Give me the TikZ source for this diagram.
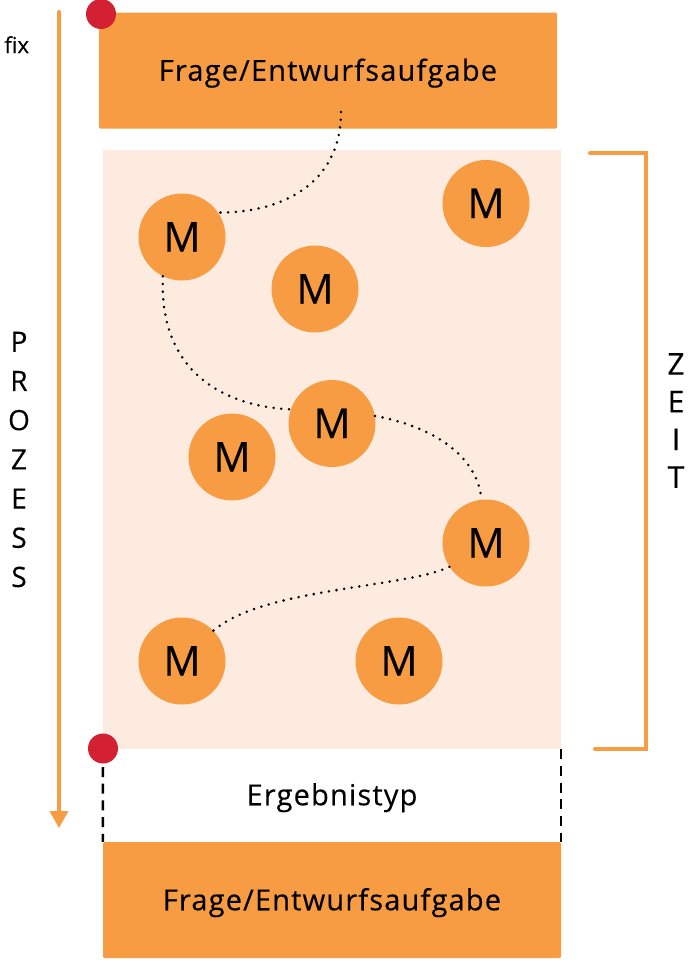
\documentclass[tikz,border=0pt]{standalone}
\usepackage{fontspec}
\setmainfont{Open Sans}[FakeBold=0.3]
\newfontfamily\spacedfont{Open Sans}[LetterSpace=4,FakeBold=0.3]
\usetikzlibrary{arrows.meta}
\definecolor{org}{HTML}{F79C42}
\definecolor{lightorg}{HTML}{FDEBE0}
\definecolor{reddot}{HTML}{D42033}
\begin{document}
\begin{tikzpicture}[x=1pt,y=-1pt,
  taskbox/.style={fill=org, draw=none, rounded corners=1.5pt, minimum width=458pt, minimum height=116pt, inner sep=0pt, font=\spacedfont\fontsize{29}{34}\selectfont, text height=20.5pt, text depth=0pt},
  mcirc/.style={circle, fill=org, draw=none, minimum size=87pt, inner sep=0pt, font=\fontsize{41}{48}\selectfont, text height=29pt, text depth=0pt},
  dotline/.style={draw=black, line width=2.8pt, line cap=round, dash pattern=on 0pt off 7.7pt},
  reddotstyle/.style={circle, fill=reddot, draw=none, minimum size=30pt, inner sep=0pt},
  orgline/.style={draw=org, line width=4pt},
  dashline/.style={draw=black, line width=2.5pt, dash pattern=on 10pt off 6.7pt},
  vlet/.style={align=center, inner sep=0pt}
]
\useasboundingbox (0,0) rectangle (696,962);

% background area
\node[fill=lightorg, draw=none, minimum width=458pt, minimum height=599pt, inner sep=0pt] (area) at (332,449.5) {};

% boxes
\node[taskbox] (top) at (328,70.5) {Frage/Entwurfsaufgabe};
\node[taskbox] (bottom) at (332,900) {Frage/Entwurfsaufgabe};

% circles
\node[mcirc] (M1) at (182,237) {M};
\node[mcirc] (M2) at (486,203.5) {M};
\node[mcirc] (M3) at (315,289) {M};
\node[mcirc] (M4) at (332,423.5) {M};
\node[mcirc] (M5) at (232,457) {M};
\node[mcirc] (M6) at (486,543) {M};
\node[mcirc] (M7) at (182,661) {M};
\node[mcirc] (M8) at (399,661) {M};

% dotted connectors
\coordinate (s1) at (341,112);
\draw[dotline] (s1) .. controls (341,185) and (280,213) .. (M1.34);
\draw[dotline] (M1.244) .. controls (158,390) and (250,408) .. (M4.161);
\draw[dotline] (M4.10) .. controls (440,428) and (478,460) .. (M6.96);
\draw[dotline] (M6.213) .. controls (405,588) and (262,588) .. (M7.44);

% Ergebnistyp
\node[font=\spacedfont\fontsize{29}{34}\selectfont, text height=20.5pt, text depth=0pt, inner sep=0pt] (erg) at (332,795) {Ergebnistyp};

% dashed lines
\coordinate (dl1) at (103,767);
\draw[dashline] (dl1) -- (bottom.north west);
\draw[dashline] (area.south east) -- (bottom.north east);

% red dots
\node[reddotstyle] (rd1) at (101,14) {};
\node[reddotstyle] (rd2) at (103,748.5) {};

% process arrow
\coordinate (atop) at (59,12);
\coordinate (abot) at (59,828);
\draw[orgline, line cap=round, -{Triangle[length=17pt,width=18pt]}] (atop) -- (abot);

% time bracket
\coordinate (b1) at (590,153);
\coordinate (b2) at (646,153);
\coordinate (b3) at (646,749);
\coordinate (b4) at (595,749);
\draw[orgline, line cap=round] (b1) -- (b2) -- (b3) -- (b4);

% labels
\node[font=\fontsize{22}{24}\selectfont, anchor=base, inner sep=0pt] (fix) at (16.7,53) {fix};
\node[vlet, font=\fontsize{28}{39.2}\selectfont] (prozess) at (19,459.5) {P\\R\\O\\Z\\E\\S\\S};
\node[vlet, font=\fontsize{30}{37.7}\selectfont] (zeit) at (676,420.5) {Z\\E\\I\\T};
\end{tikzpicture}
\end{document}
